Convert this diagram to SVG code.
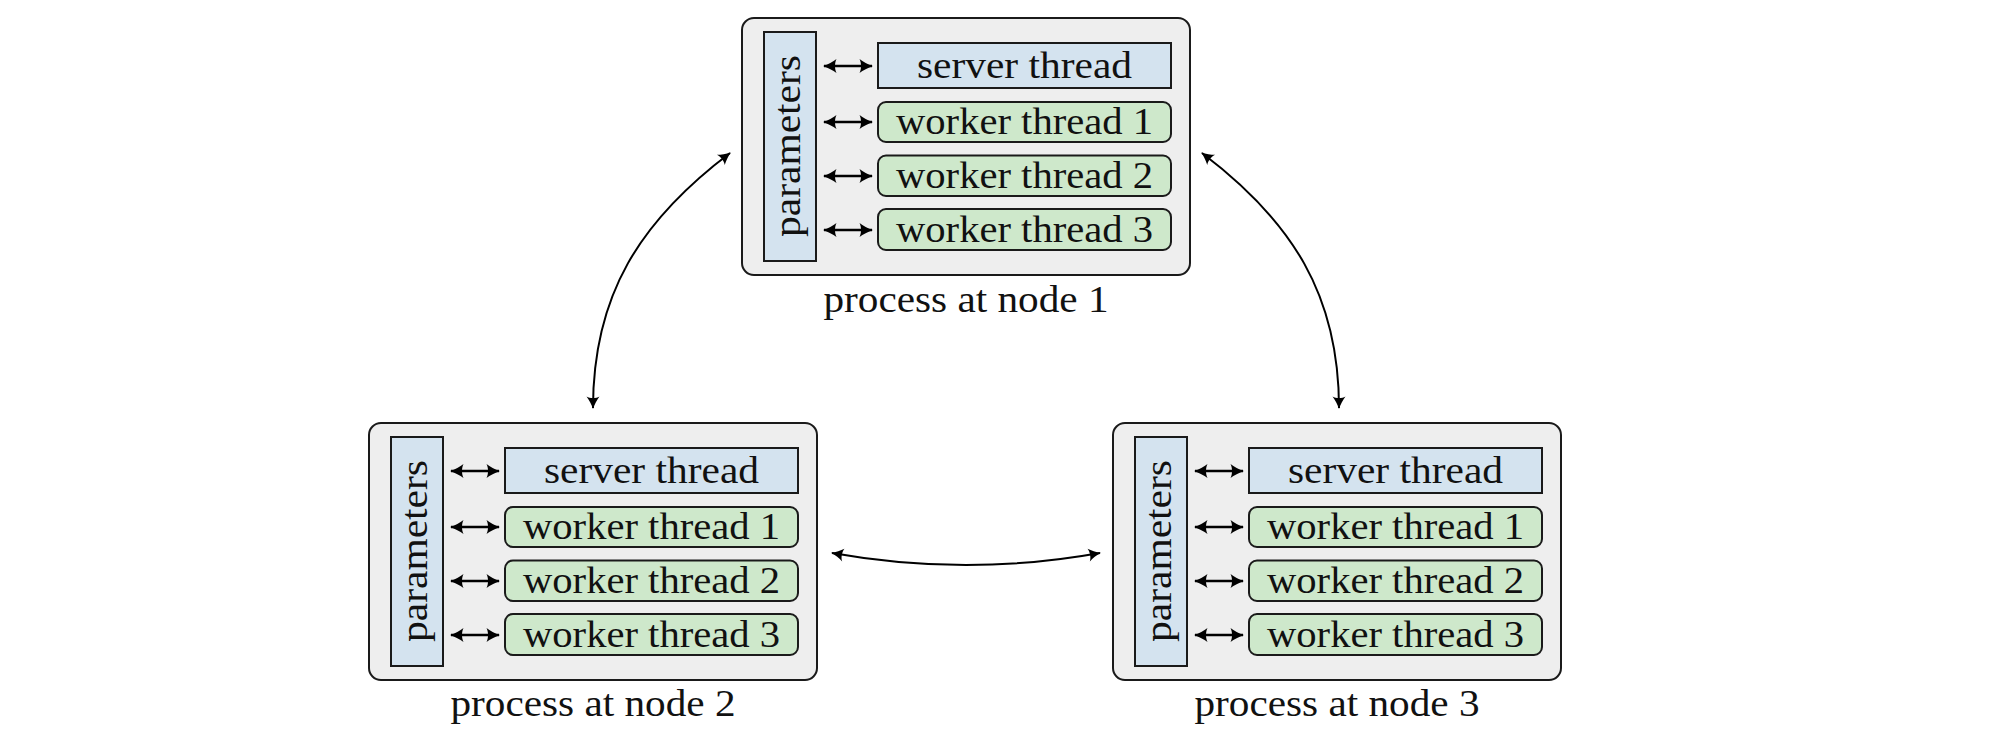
<svg xmlns="http://www.w3.org/2000/svg" width="2000" height="735" viewBox="0 0 2000 735">
<style>
.box{fill:#eeeeee;stroke:#1a1a1a;stroke-width:2}
.blue{fill:#d4e3ef;stroke:#1a1a1a;stroke-width:2}
.green{fill:#cee8cb;stroke:#1a1a1a;stroke-width:2}
.t{font-family:"Liberation Serif","Times New Roman",serif;font-size:37px;fill:#111;text-anchor:middle}
.ia{fill:none;stroke:#000;stroke-width:2.4;marker-start:url(#ah);marker-end:url(#ah)}
.ca{fill:none;stroke:#000;stroke-width:2;marker-start:url(#ah2);marker-end:url(#ah2)}
</style>
<defs>
<marker id="ah" viewBox="-14 -8 16 16" markerWidth="16" markerHeight="16" refX="0" refY="0" orient="auto-start-reverse" markerUnits="userSpaceOnUse">
<path d="M1,0 C-4,-1.5 -9,-4.5 -12.5,-7 C-10.5,-3.5 -10.5,3.5 -12.5,7 C-9,4.5 -4,1.5 1,0 Z" fill="#000"/>
</marker>
<marker id="ah2" viewBox="-14 -8 16 16" markerWidth="16" markerHeight="16" refX="0" refY="0" orient="auto-start-reverse" markerUnits="userSpaceOnUse">
<path d="M1,0 C-4,-1.5 -8,-4 -11.5,-6.5 C-9.5,-3 -9.5,3 -11.5,6.5 C-8,4 -4,1.5 1,0 Z" fill="#000"/>
</marker>
<g id="proc">
<rect class="box" x="0" y="0" width="448" height="257" rx="12"/>
<rect class="blue" x="22" y="14" width="52" height="229"/>
<text class="t" transform="translate(58,128) rotate(-90)" x="0" y="0" textLength="182" lengthAdjust="spacingAndGlyphs">parameters</text>
<rect class="blue" x="136" y="25" width="293" height="45"/>
<text class="t" x="282.5" y="60" textLength="215" lengthAdjust="spacingAndGlyphs">server thread</text>
<rect class="green" x="136" y="84" width="293" height="40" rx="8"/>
<rect class="green" x="136" y="137.5" width="293" height="40.5" rx="8"/>
<rect class="green" x="136" y="191" width="293" height="41" rx="8"/>
<path class="ia" d="M82,48 H130"/>
<path class="ia" d="M82,104 H130"/>
<path class="ia" d="M82,158 H130"/>
<path class="ia" d="M82,212 H130"/>
</g>
</defs>
<g id="node1" transform="translate(742,18)">
<use href="#proc"/>
<text class="t" x="282.5" y="116" textLength="257" lengthAdjust="spacingAndGlyphs">worker thread 1</text>
<text class="t" x="282.5" y="170" textLength="257" lengthAdjust="spacingAndGlyphs">worker thread 2</text>
<text class="t" x="282.5" y="224" textLength="257" lengthAdjust="spacingAndGlyphs">worker thread 3</text>
<text class="t" x="224" y="294" textLength="285" lengthAdjust="spacingAndGlyphs">process at node 1</text>
</g>
<g id="node2" transform="translate(369,423)">
<use href="#proc"/>
<text class="t" x="282.5" y="116" textLength="257" lengthAdjust="spacingAndGlyphs">worker thread 1</text>
<text class="t" x="282.5" y="170" textLength="257" lengthAdjust="spacingAndGlyphs">worker thread 2</text>
<text class="t" x="282.5" y="224" textLength="257" lengthAdjust="spacingAndGlyphs">worker thread 3</text>
<text class="t" x="224" y="293" textLength="285" lengthAdjust="spacingAndGlyphs">process at node 2</text>
</g>
<g id="node3" transform="translate(1113,423)">
<use href="#proc"/>
<text class="t" x="282.5" y="116" textLength="257" lengthAdjust="spacingAndGlyphs">worker thread 1</text>
<text class="t" x="282.5" y="170" textLength="257" lengthAdjust="spacingAndGlyphs">worker thread 2</text>
<text class="t" x="282.5" y="224" textLength="257" lengthAdjust="spacingAndGlyphs">worker thread 3</text>
<text class="t" x="224" y="293" textLength="285" lengthAdjust="spacingAndGlyphs">process at node 3</text>
</g>
<g id="connectors">
<path class="ca" d="M593,408 C593,295 640,221 730,153"/>
<path class="ca" d="M1339,408 C1339,295 1292,221 1202,153"/>
<path class="ca" d="M832,553 C921,569 1011,569 1100,553"/>
</g>
</svg>
